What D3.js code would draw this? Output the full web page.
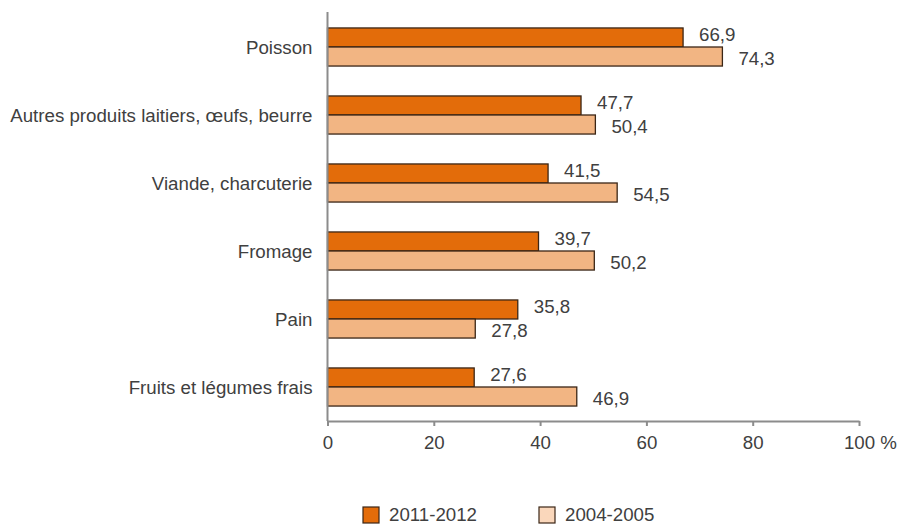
<!DOCTYPE html>
<html><head><meta charset="utf-8">
<script src="https://cdn.jsdelivr.net/npm/d3@7"></script>
<style>
html,body{margin:0;padding:0;background:#fff;}
svg{display:block;font-family:"Liberation Sans",Arial,sans-serif;}
</style></head>
<body>
<svg id="c" width="898" height="526"></svg>
<script>
const categories = ["Poisson","Autres produits laitiers, œufs, beurre","Viande, charcuterie","Fromage","Pain","Fruits et légumes frais"];
const seriesNames = ["2011-2012","2004-2005"];
const values2011 = [66.9,47.7,41.5,39.7,35.8,27.6];
const values2004 = [74.3,50.4,54.5,50.2,27.8,46.9];
const xTicks = [0,20,40,60,80,100];

const barColors = ["#E36C0A","#F2B583"];
const legendColors = ["#E36C0A","#FAD7BB"];
const textColor = "#404040";
const axisColor = "#8C8C8C";
const fs = 18.7;

const svg = d3.select("#c");
const m = {left:327.5, right:859, top:13, bottom:421};

const x = d3.scaleLinear().domain([0,100]).range([m.left,m.right]);
const y = d3.scaleBand().domain(categories).range([m.top,m.bottom]).paddingInner(0.44).paddingOuter(0.22);
const ys = d3.scaleBand().domain(seriesNames).range([0,y.bandwidth()]);

const rows = categories.map((c,i)=>({cat:c, vals:[values2011[i],values2004[i]]}));

const g = svg.append("g");
const grp = g.selectAll("g.cat").data(rows).join("g").attr("class","cat")
  .attr("transform",d=>`translate(0,${y(d.cat)})`);

grp.selectAll("rect").data(d=>d.vals.map((v,j)=>({v,s:seriesNames[j],j})))
  .join("rect")
  .attr("x",x(0))
  .attr("y",d=>ys(d.s))
  .attr("width",d=>x(d.v)-x(0))
  .attr("height",ys.bandwidth())
  .attr("fill",d=>barColors[d.j])
  .attr("stroke","#3b2616")
  .attr("stroke-width",1.3);

grp.selectAll("text.val").data(d=>d.vals.map((v,j)=>({v,s:seriesNames[j],j})))
  .join("text").attr("class","val")
  .attr("x",d=>x(d.v)+16)
  .attr("y",d=>ys(d.s)+ys.bandwidth()/2 + (d.j===0?-3:2))
  .attr("dy","0.35em")
  .attr("font-size",fs)
  .attr("fill",textColor)
  .text(d=>d3.format(".1f")(d.v).replace(".",","));

// category labels
g.selectAll("text.cat").data(categories).join("text").attr("class","cat")
  .attr("x",m.left-15)
  .attr("y",d=>y(d)+y.bandwidth()/2)
  .attr("dy","0.35em")
  .attr("text-anchor","end")
  .attr("font-size",fs)
  .attr("fill",textColor)
  .text(d=>d);

// x axis
const xAxis = svg.append("g").attr("transform",`translate(0,${m.bottom})`)
  .call(d3.axisBottom(x).tickValues(xTicks).tickSize(5).tickPadding(10).tickSizeOuter(0).tickFormat(d=>d));
xAxis.select(".domain").attr("stroke",axisColor).attr("stroke-width",2);
xAxis.selectAll(".tick line").attr("stroke",axisColor).attr("stroke-width",2);
xAxis.selectAll(".tick text").attr("font-size",fs).attr("fill",textColor).attr("font-family","Liberation Sans, Arial, sans-serif");
xAxis.selectAll(".tick text").filter(d=>d===100).each(function(){
  const t = d3.select(this);
  const w = this.getComputedTextLength();
  t.attr("text-anchor","start").attr("x",-w/2);
  t.append("tspan").text(" %");
});

// y axis line
svg.append("line").attr("x1",m.left).attr("x2",m.left).attr("y1",m.top-1).attr("y2",m.bottom)
  .attr("stroke",axisColor).attr("stroke-width",2);

// legend
const leg = svg.append("g");
const legX = [363,539];
seriesNames.forEach((s,i)=>{
  leg.append("rect").attr("x",legX[i]).attr("y",507).attr("width",16).attr("height",16)
    .attr("fill",legendColors[i]).attr("stroke","#3b2616").attr("stroke-width",1.2);
  leg.append("text").attr("x",legX[i]+26).attr("y",514).attr("dy","0.35em")
    .attr("font-size",fs).attr("fill",textColor).text(s);
});
</script>
</body></html>
